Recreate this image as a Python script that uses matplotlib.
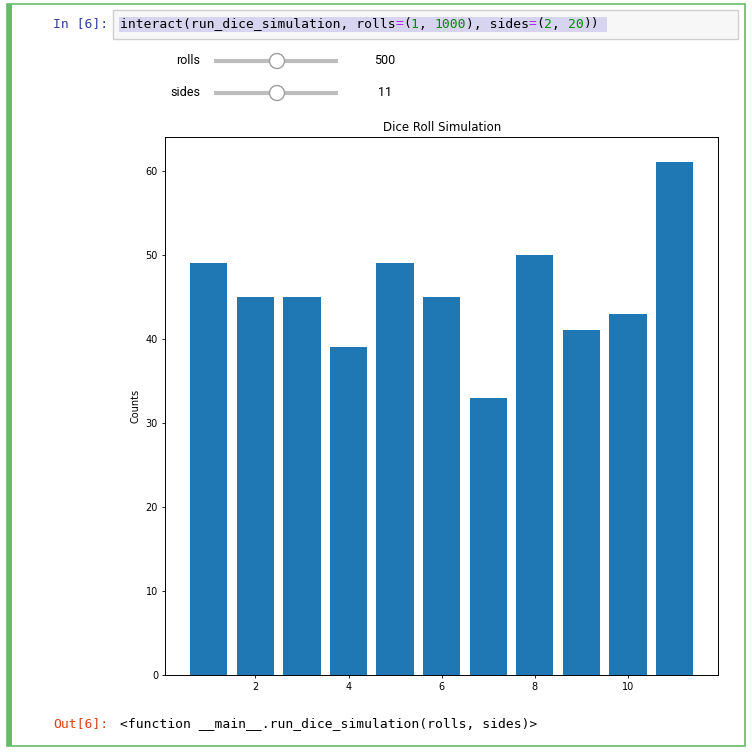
import numpy as np
import matplotlib
matplotlib.use("Agg")
import matplotlib.pyplot as plt
from matplotlib.patches import Rectangle, Ellipse

# dice roll counts per face (rolls=500, sides=11)
faces = np.arange(1, 12)
counts = [49, 45, 45, 39, 49, 45, 33, 50, 41, 43, 61]

code_parts = [("interact(run_dice_simulation, rolls", "#000000"), ("=", "#AA22FF"),
              ("(", "#000000"), ("1", "#008800"), (", ", "#000000"), ("1000", "#008800"),
              ("), sides", "#000000"), ("=", "#AA22FF"), ("(", "#000000"), ("2", "#008800"),
              (", ", "#000000"), ("20", "#008800"), ("))", "#000000")]
slider_names = ["rolls", "sides"]
slider_values = ["500", "11"]
out_text = "<function __main__.run_dice_simulation(rolls, sides)>"

W, H = 752, 753
fig = plt.figure(figsize=(W / 100, H / 100), dpi=100)
fig.patch.set_facecolor("white")


def fx(x):
    return x / W


def fy(y):
    return 1 - y / H


def rect(x0, y0, x1, y1, **kw):
    fig.patches.append(Rectangle((fx(x0), fy(y1)), fx(x1) - fx(x0), fy(y0) - fy(y1),
                                 transform=fig.transFigure, figure=fig, **kw))


# notebook cell frame
green = "#66BB6A"
rect(7, 4, 744.5, 746, facecolor="none", edgecolor=green, linewidth=1.2)
rect(7, 4, 12, 746, facecolor=green, edgecolor="none")

# code input box
rect(113, 10, 738, 39, facecolor="#F7F7F7", edgecolor="#CFCFCF", linewidth=1)
rect(119, 17, 607, 32, facecolor="#D7D4F0", edgecolor="none")

mono = "DejaVu Sans Mono"
fs_mono = 9.4
cw = 0.602 * fs_mono * 100 / 72
fig.text(fx(53), fy(24), "In [6]:", family=mono, fontsize=fs_mono, color="#303F9F",
         ha="left", va="center")
xpos = 120
for txt, col in code_parts:
    fig.text(fx(xpos), fy(24), txt, family=mono, fontsize=fs_mono, color=col,
             ha="left", va="center")
    xpos += len(txt) * cw

# sliders
for i, (name, val) in enumerate(zip(slider_names, slider_values)):
    y = 61 + i * 32
    fig.text(fx(200), fy(y), name, family="Roboto", fontsize=9, color="#000000",
             ha="right", va="center")
    fig.lines.append(plt.Line2D([fx(214), fx(338)], [fy(y), fy(y)], transform=fig.transFigure,
                                color="#BDBDBD", linewidth=3, solid_capstyle="butt"))
    fig.patches.append(Ellipse((fx(277), fy(y)), 15 / W, 15 / H, transform=fig.transFigure,
                               facecolor="white", edgecolor="#9E9E9E", linewidth=1, zorder=5))
    fig.text(fx(385), fy(y), val, family="Roboto", fontsize=9, color="#000000",
             ha="center", va="center")

# output line
fig.text(fx(53), fy(724), "Out[6]:", family=mono, fontsize=fs_mono, color="#D84315",
         ha="left", va="center")
fig.text(fx(120), fy(724), out_text, family=mono, fontsize=fs_mono, color="#000000",
         ha="left", va="center")

# the bar chart
ax = fig.add_axes([fx(165), fy(675), fx(718.3) - fx(165), fy(136.7) - fy(675)])
ax.bar(faces, counts, color="#1F77B4")
ax.set_title("Dice Roll Simulation", fontsize=8.5, pad=4)
ax.set_ylabel("Counts", fontsize=7, labelpad=4)
ax.tick_params(labelsize=7, length=2.5, width=0.6, pad=2.5)
for s in ax.spines.values():
    s.set_linewidth(0.7)

fig.savefig("out.png", dpi=100)
